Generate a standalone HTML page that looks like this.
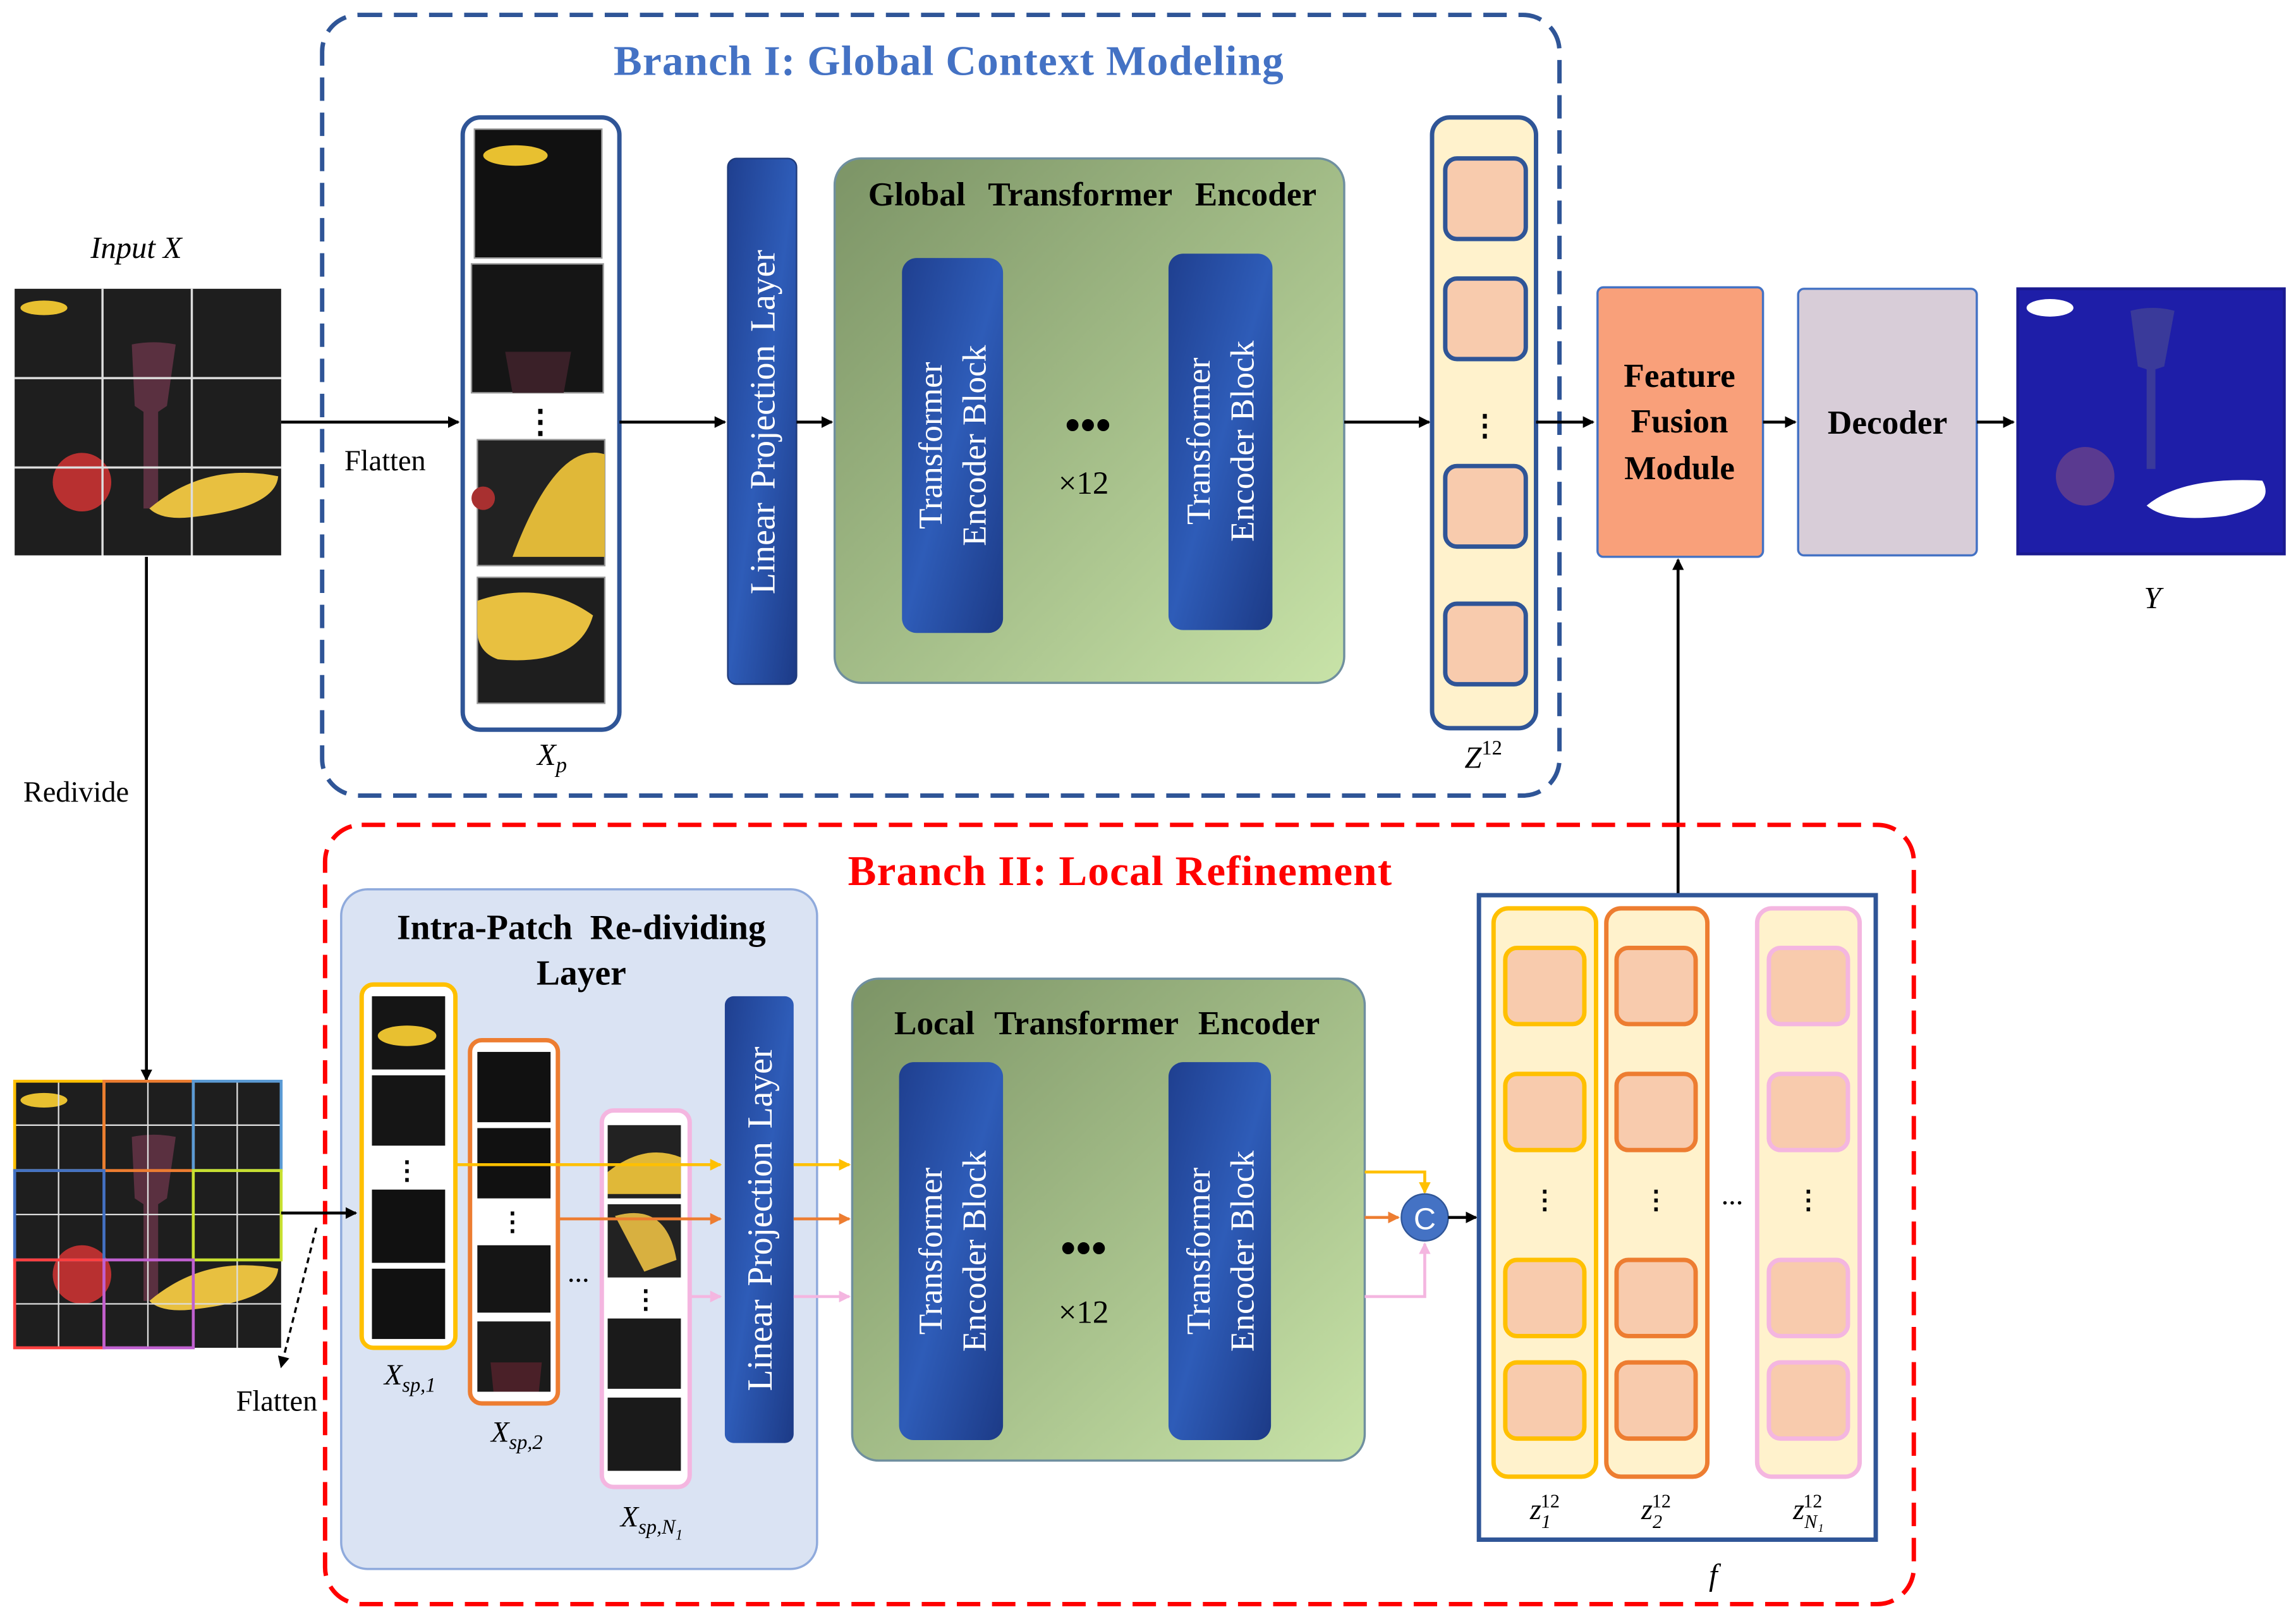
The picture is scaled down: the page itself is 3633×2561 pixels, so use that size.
<!DOCTYPE html>
<html><head><meta charset="utf-8"><style>
html,body{margin:0;padding:0;background:#fff;}
svg{display:block;}
text{font-family:"Liberation Serif",serif;}
</style></head><body>
<svg width="3633" height="2561" viewBox="0 0 1568 1105" xmlns="http://www.w3.org/2000/svg">
<defs>
<linearGradient id="blue" x1="0" y1="0" x2="1" y2="1"><stop offset="0" stop-color="#1f3f8f"/><stop offset="0.5" stop-color="#2e5cb8"/><stop offset="1" stop-color="#1c3a86"/></linearGradient>
<linearGradient id="green" x1="0" y1="0" x2="1" y2="1"><stop offset="0" stop-color="#7c9466"/><stop offset="1" stop-color="#c8e3a8"/></linearGradient>
<marker id="ar" markerWidth="8" markerHeight="8" refX="7" refY="4" orient="auto" markerUnits="userSpaceOnUse"><path d="M0,0 L8,4 L0,8z" fill="#000"/></marker>
<marker id="ary" markerWidth="8" markerHeight="8" refX="7" refY="4" orient="auto" markerUnits="userSpaceOnUse"><path d="M0,0 L8,4 L0,8z" fill="#ffc000"/></marker>
<marker id="aro" markerWidth="8" markerHeight="8" refX="7" refY="4" orient="auto" markerUnits="userSpaceOnUse"><path d="M0,0 L8,4 L0,8z" fill="#ed7d31"/></marker>
<marker id="arp" markerWidth="8" markerHeight="8" refX="7" refY="4" orient="auto" markerUnits="userSpaceOnUse"><path d="M0,0 L8,4 L0,8z" fill="#f4b6e0"/></marker>
<g id="img">
<rect x="0" y="0" width="182" height="182" fill="#1e1e1e"/>
<ellipse cx="20" cy="13" rx="16" ry="5" fill="#e8c030"/>
<path d="M80,38 Q95,35 110,38 L104,80 L98,84 L98,150 L88,150 L88,84 L82,80 Z" fill="#5a3040"/>
<circle cx="46" cy="132" r="20" fill="#b83030"/>
<path d="M92,150 Q130,118 180,128 Q178,150 120,156 Q100,158 92,150Z" fill="#e8c040"/>
</g>
</defs>

<rect x="220" y="10" width="845" height="533" rx="25" fill="none" stroke="#2f5597" stroke-width="3" stroke-dasharray="16,8"/>
<text x="648" y="51" text-anchor="middle" font-size="29" font-weight="bold" fill="#4472c4" letter-spacing="0.5">Branch I: Global Context Modeling</text>

<text x="93" y="176" text-anchor="middle" font-size="21" font-style="italic">Input X</text>
<use href="#img" x="10" y="197"/>
<g stroke="#ddd" stroke-width="1.5"><line x1="70" y1="197" x2="70" y2="379"/><line x1="131" y1="197" x2="131" y2="379"/><line x1="10" y1="258" x2="192" y2="258"/><line x1="10" y1="319" x2="192" y2="319"/></g>

<line x1="192" y1="288" x2="313" y2="288" stroke="#000" stroke-width="2" marker-end="url(#ar)"/>
<text x="263" y="321" text-anchor="middle" font-size="20">Flatten</text>

<rect x="316" y="80" width="107" height="418" rx="12" fill="#fff" stroke="#2f5597" stroke-width="3"/>
<rect x="324" y="88" width="87" height="88" fill="#111" stroke="#999"/><ellipse cx="352" cy="106" rx="22" ry="7" fill="#e8c030"/>
<rect x="322" y="180" width="90" height="88" fill="#151515" stroke="#999"/><path d="M345,240 L390,240 L385,268 L350,268Z" fill="#3a2028"/>
<text x="369" y="295" text-anchor="middle" font-size="22" font-weight="bold">⋮</text>
<rect x="326" y="300" width="87" height="86" fill="#222" stroke="#999"/><path d="M350,380 Q380,300 413,310 L413,380Z" fill="#e0b838"/><circle cx="330" cy="340" r="8" fill="#a83030"/>
<rect x="326" y="394" width="87" height="86" fill="#1e1e1e" stroke="#999"/><path d="M326,410 Q370,395 405,420 Q395,455 340,450 Q326,445 326,430Z" fill="#e8c040"/>
<text x="377" y="522" text-anchor="middle" font-size="21" font-style="italic">X<tspan font-size="15" dy="5">p</tspan></text>

<line x1="423" y1="288" x2="495" y2="288" stroke="#000" stroke-width="2" marker-end="url(#ar)"/>
<rect x="497" y="108" width="47" height="359" rx="6" fill="url(#blue)" stroke="#1f3a7a"/>
<text transform="translate(529,288) rotate(-90)" text-anchor="middle" font-size="24" fill="#fff" word-spacing="3">Linear  Projection Layer</text>
<line x1="544" y1="288" x2="568" y2="288" stroke="#000" stroke-width="2" marker-end="url(#ar)"/>

<rect x="570" y="108" width="348" height="358" rx="18" fill="url(#green)" stroke="#6f8f9f" stroke-width="1.5"/>
<text x="746" y="140" text-anchor="middle" font-size="23" font-weight="bold" word-spacing="10">Global Transformer Encoder</text>
<rect x="616" y="176" width="69" height="256" rx="10" fill="url(#blue)"/>
<text transform="translate(643,304) rotate(-90)" text-anchor="middle" font-size="23" fill="#fff">Transformer</text>
<text transform="translate(673,304) rotate(-90)" text-anchor="middle" font-size="23" fill="#fff">Encoder Block</text>
<rect x="798" y="173" width="71" height="257" rx="10" fill="url(#blue)"/>
<text transform="translate(826,301) rotate(-90)" text-anchor="middle" font-size="23" fill="#fff">Transformer</text>
<text transform="translate(856,301) rotate(-90)" text-anchor="middle" font-size="23" fill="#fff">Encoder Block</text>
<text x="743" y="300" text-anchor="middle" font-size="30" font-weight="bold">•••</text>
<text x="740" y="337" text-anchor="middle" font-size="22">×12</text>

<line x1="918" y1="288" x2="976" y2="288" stroke="#000" stroke-width="2" marker-end="url(#ar)"/>
<rect x="978" y="80" width="71" height="417" rx="12" fill="#fff2cc" stroke="#2f5597" stroke-width="3"/>
<g fill="#f8cbad" stroke="#2f5597" stroke-width="3">
<rect x="987" y="108" width="55" height="55" rx="8"/><rect x="987" y="190" width="55" height="55" rx="8"/>
<rect x="987" y="318" width="55" height="55" rx="8"/><rect x="987" y="412" width="55" height="55" rx="8"/></g>
<text x="1014" y="297" text-anchor="middle" font-size="20" font-weight="bold">⋮</text>
<text x="1013" y="524" text-anchor="middle" font-size="21" font-style="italic">Z<tspan font-size="14" dy="-9" font-style="normal">12</tspan></text>

<line x1="1049" y1="288" x2="1088" y2="288" stroke="#000" stroke-width="2" marker-end="url(#ar)"/>
<rect x="1091" y="196" width="113" height="184" rx="4" fill="#f9a07a" stroke="#4472c4" stroke-width="1.5"/>
<text x="1147" y="264" text-anchor="middle" font-size="23" font-weight="bold">Feature</text>
<text x="1147" y="295" text-anchor="middle" font-size="23" font-weight="bold">Fusion</text>
<text x="1147" y="327" text-anchor="middle" font-size="23" font-weight="bold">Module</text>
<line x1="1204" y1="288" x2="1226" y2="288" stroke="#000" stroke-width="2" marker-end="url(#ar)"/>
<rect x="1228" y="197" width="122" height="182" rx="4" fill="#d8cdd8" stroke="#4472c4" stroke-width="1.5"/>
<text x="1289" y="296" text-anchor="middle" font-size="23" font-weight="bold">Decoder</text>
<line x1="1350" y1="288" x2="1375" y2="288" stroke="#000" stroke-width="2" marker-end="url(#ar)"/>
<rect x="1378" y="197" width="182" height="181" fill="#1e1ea8" stroke="#1a1a90" stroke-width="2"/>
<ellipse cx="1400" cy="210" rx="16" ry="6" fill="#fff"/>
<path d="M1455,212 Q1470,208 1485,212 L1478,250 L1472,252 L1472,320 L1466,320 L1466,252 L1460,250Z" fill="#3a3a9a"/>
<circle cx="1424" cy="325" r="20" fill="#5a3a90"/>
<path d="M1466,345 Q1490,325 1545,328 Q1555,345 1520,352 Q1480,357 1466,345Z" fill="#fff"/>
<text x="1470" y="415" text-anchor="middle" font-size="21" font-style="italic">Y</text>

<line x1="1146" y1="612" x2="1146" y2="382" stroke="#000" stroke-width="2" marker-end="url(#ar)"/>

<line x1="100" y1="380" x2="100" y2="737" stroke="#000" stroke-width="2" marker-end="url(#ar)"/>
<text x="52" y="547" text-anchor="middle" font-size="20">Redivide</text>

<rect x="222" y="563" width="1085" height="532" rx="25" fill="none" stroke="#ff0000" stroke-width="3" stroke-dasharray="16,8"/>
<text x="765" y="604" text-anchor="middle" font-size="29" font-weight="bold" fill="#ff0000" letter-spacing="0.5">Branch II: Local Refinement</text>

<use href="#img" x="10" y="738"/>
<g stroke="#ddd" stroke-width="1"><line x1="40" y1="738" x2="40" y2="920"/><line x1="101" y1="738" x2="101" y2="920"/><line x1="162" y1="738" x2="162" y2="920"/><line x1="10" y1="768" x2="192" y2="768"/><line x1="10" y1="829" x2="192" y2="829"/><line x1="10" y1="890" x2="192" y2="890"/></g>
<g fill="none" stroke-width="2"><rect x="10" y="738" width="61" height="61" stroke="#ffc000"/><rect x="71" y="738" width="61" height="61" stroke="#ed7d31"/><rect x="132" y="738" width="60" height="61" stroke="#5b9bd5"/>
<rect x="10" y="799" width="61" height="61" stroke="#4472c4"/><rect x="132" y="799" width="60" height="61" stroke="#c8e030"/><rect x="10" y="860" width="61" height="60" stroke="#ff4040"/><rect x="71" y="860" width="61" height="60" stroke="#c060d0"/></g>

<line x1="216" y1="838" x2="192" y2="933" stroke="#000" stroke-width="1.5" stroke-dasharray="4,3" marker-end="url(#ar)"/>
<text x="189" y="963" text-anchor="middle" font-size="20">Flatten</text>

<rect x="233" y="607" width="325" height="464" rx="18" fill="#dae3f3" stroke="#8faadc" stroke-width="1.5"/>
<line x1="192" y1="828" x2="243" y2="828" stroke="#000" stroke-width="2" marker-end="url(#ar)"/>
<text x="397" y="641" text-anchor="middle" font-size="24" font-weight="bold" word-spacing="6">Intra-Patch Re-dividing</text>
<text x="397" y="672" text-anchor="middle" font-size="24" font-weight="bold">Layer</text>

<rect x="247" y="672" width="64" height="248" rx="8" fill="#fff" stroke="#ffc000" stroke-width="3"/>
<rect x="254" y="680" width="50" height="50" fill="#151515"/><ellipse cx="278" cy="707" rx="20" ry="7" fill="#e8c030"/>
<rect x="254" y="734" width="50" height="48" fill="#151515"/>
<text x="278" y="805" text-anchor="middle" font-size="18" font-weight="bold">⋮</text>
<rect x="254" y="812" width="50" height="50" fill="#111"/><rect x="254" y="866" width="50" height="48" fill="#111"/>
<rect x="321" y="710" width="60" height="248" rx="8" fill="#fff" stroke="#ed7d31" stroke-width="3"/>
<rect x="326" y="718" width="50" height="48" fill="#111"/><rect x="326" y="770" width="50" height="48" fill="#111"/>
<text x="350" y="840" text-anchor="middle" font-size="18" font-weight="bold">⋮</text>
<rect x="326" y="850" width="50" height="46" fill="#151515"/><rect x="326" y="902" width="50" height="48" fill="#1a1a1a"/><path d="M335,930 L370,930 L368,950 L337,950Z" fill="#4a2028"/>
<text x="395" y="875" text-anchor="middle" font-size="20">...</text>
<rect x="411" y="758" width="60" height="257" rx="8" fill="#fff" stroke="#f4b6e0" stroke-width="3"/>
<rect x="415" y="768" width="50" height="50" fill="#222"/><path d="M415,800 Q440,780 465,790 L465,815 L415,815Z" fill="#e0b838"/>
<rect x="415" y="822" width="50" height="50" fill="#222"/><path d="M420,830 Q455,820 462,860 L440,868Z" fill="#d8b040"/>
<text x="441" y="893" text-anchor="middle" font-size="18" font-weight="bold">⋮</text>
<rect x="415" y="900" width="50" height="48" fill="#1a1a1a"/><rect x="415" y="954" width="50" height="50" fill="#1a1a1a"/>

<text x="280" y="945" text-anchor="middle" font-size="20" font-style="italic">X<tspan font-size="14" dy="5">sp,1</tspan></text>
<text x="353" y="984" text-anchor="middle" font-size="20" font-style="italic">X<tspan font-size="14" dy="5">sp,2</tspan></text>
<text x="445" y="1042" text-anchor="middle" font-size="20" font-style="italic">X<tspan font-size="14" dy="5">sp,N</tspan><tspan font-size="10" dy="4">1</tspan></text>

<line x1="311" y1="795" x2="492" y2="795" stroke="#ffc000" stroke-width="2" marker-end="url(#ary)"/>
<line x1="381" y1="832" x2="492" y2="832" stroke="#ed7d31" stroke-width="2" marker-end="url(#aro)"/>
<line x1="471" y1="885" x2="492" y2="885" stroke="#f4b6e0" stroke-width="2" marker-end="url(#arp)"/>
<rect x="495" y="680" width="47" height="305" rx="6" fill="url(#blue)"/>
<text transform="translate(527,832) rotate(-90)" text-anchor="middle" font-size="24" fill="#fff" word-spacing="3">Linear  Projection Layer</text>
<line x1="542" y1="795" x2="580" y2="795" stroke="#ffc000" stroke-width="2" marker-end="url(#ary)"/>
<line x1="542" y1="832" x2="580" y2="832" stroke="#ed7d31" stroke-width="2" marker-end="url(#aro)"/>
<line x1="542" y1="885" x2="580" y2="885" stroke="#f4b6e0" stroke-width="2" marker-end="url(#arp)"/>

<rect x="582" y="668" width="350" height="329" rx="18" fill="url(#green)" stroke="#6f8f9f" stroke-width="1.5"/>
<text x="756" y="706" text-anchor="middle" font-size="23" font-weight="bold" word-spacing="8">Local Transformer Encoder</text>
<rect x="614" y="725" width="71" height="258" rx="10" fill="url(#blue)"/>
<text transform="translate(643,854) rotate(-90)" text-anchor="middle" font-size="23" fill="#fff">Transformer</text>
<text transform="translate(673,854) rotate(-90)" text-anchor="middle" font-size="23" fill="#fff">Encoder Block</text>
<rect x="798" y="725" width="70" height="258" rx="10" fill="url(#blue)"/>
<text transform="translate(826,854) rotate(-90)" text-anchor="middle" font-size="23" fill="#fff">Transformer</text>
<text transform="translate(856,854) rotate(-90)" text-anchor="middle" font-size="23" fill="#fff">Encoder Block</text>
<text x="740" y="862" text-anchor="middle" font-size="30" font-weight="bold">•••</text>
<text x="740" y="903" text-anchor="middle" font-size="22">×12</text>

<polyline points="932,800 973,800 973,814" fill="none" stroke="#ffc000" stroke-width="2" marker-end="url(#ary)"/>
<line x1="932" y1="831" x2="955" y2="831" stroke="#ed7d31" stroke-width="2" marker-end="url(#aro)"/>
<polyline points="932,885 973,885 973,849" fill="none" stroke="#f4b6e0" stroke-width="2" marker-end="url(#arp)"/>
<circle cx="973" cy="831" r="16" fill="#4472c4" stroke="#2f5597"/>
<text x="973" y="839" text-anchor="middle" font-size="21" fill="#fff" style="font-family:'Liberation Sans',sans-serif">C</text>
<line x1="989" y1="831" x2="1008" y2="831" stroke="#000" stroke-width="2" marker-end="url(#ar)"/>

<rect x="1010" y="611" width="271" height="440" fill="#fff" stroke="#2f5597" stroke-width="3"/>
<rect x="1020" y="620" width="70" height="388" rx="10" fill="#fff2cc" stroke="#ffc000" stroke-width="3"/>
<rect x="1097" y="620" width="69" height="388" rx="10" fill="#fff2cc" stroke="#ed7d31" stroke-width="3"/>
<rect x="1200" y="620" width="70" height="388" rx="10" fill="#fff2cc" stroke="#f4b6e0" stroke-width="3"/>
<g fill="#f8cbad" stroke-width="3">
<g stroke="#ffc000"><rect x="1028" y="647" width="54" height="52" rx="8"/><rect x="1028" y="733" width="54" height="52" rx="8"/><rect x="1028" y="860" width="54" height="52" rx="8"/><rect x="1028" y="930" width="54" height="52" rx="8"/></g>
<g stroke="#ed7d31"><rect x="1104" y="647" width="54" height="52" rx="8"/><rect x="1104" y="733" width="54" height="52" rx="8"/><rect x="1104" y="860" width="54" height="52" rx="8"/><rect x="1104" y="930" width="54" height="52" rx="8"/></g>
<g stroke="#f4b6e0"><rect x="1208" y="647" width="54" height="52" rx="8"/><rect x="1208" y="733" width="54" height="52" rx="8"/><rect x="1208" y="860" width="54" height="52" rx="8"/><rect x="1208" y="930" width="54" height="52" rx="8"/></g>
</g>
<text x="1055" y="825" text-anchor="middle" font-size="18" font-weight="bold">⋮</text>
<text x="1131" y="825" text-anchor="middle" font-size="18" font-weight="bold">⋮</text>
<text x="1235" y="825" text-anchor="middle" font-size="18" font-weight="bold">⋮</text>
<text x="1183" y="822" text-anchor="middle" font-size="20">...</text>
<text x="1055" y="1037" text-anchor="middle" font-size="20" font-style="italic">z<tspan font-size="13" dy="6">1</tspan><tspan font-size="13" dx="-7" dy="-14" font-style="normal">12</tspan></text>
<text x="1131" y="1037" text-anchor="middle" font-size="20" font-style="italic">z<tspan font-size="13" dy="6">2</tspan><tspan font-size="13" dx="-7" dy="-14" font-style="normal">12</tspan></text>
<text x="1235" y="1037" text-anchor="middle" font-size="20" font-style="italic">z<tspan font-size="13" dy="6">N₁</tspan><tspan font-size="13" dx="-14" dy="-14" font-style="normal">12</tspan></text>
<text x="1170" y="1082" text-anchor="middle" font-size="21" font-style="italic">f</text>
</svg>
</body></html>
